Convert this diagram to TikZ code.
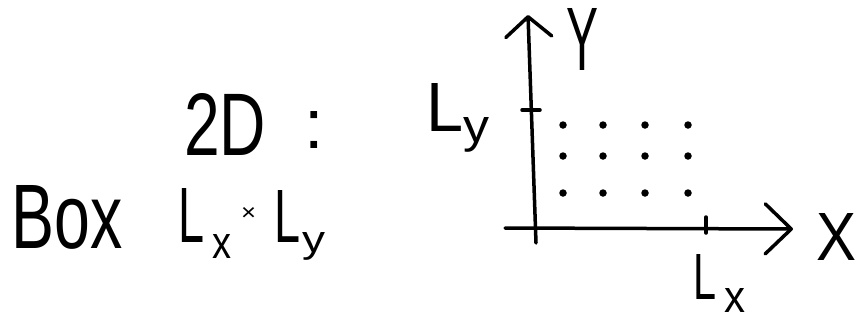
\documentclass[tikz,border=0pt]{standalone}
\usepackage{fontspec}
\setmainfont{Liberation Sans}
\usetikzlibrary{arrows.meta}
\newcommand{\fit}[3]{\resizebox{#1}{#2}{#3}}
\begin{document}
\begin{tikzpicture}[x=1pt,y=-1pt,
  ink/.style={line width=3.5pt, line cap=round, line join=round},
  yaxis/.style={ink, -{Straight Barb[length=20pt,width=46pt,line width=3.5pt,round]}},
  xaxis/.style={ink, -{Straight Barb[length=26pt,width=50pt,line width=3.5pt,round]}},
  lbl/.style={inner sep=0pt, anchor=base west},
  pt/.style={circle, fill=black, inner sep=0pt, minimum size=7.5pt}]
\useasboundingbox[fill=white] (0,0) rectangle (858,325);
% left text
\node[lbl] (title) at (184,155)
  {\fit{82pt}{62pt}{2D}\hspace{38pt}\raisebox{7pt}{\fontsize{70}{70}\selectfont :}};
\node[lbl] (box) at (11,248) {\fit{111pt}{63pt}{Box}};
\node[lbl] (dims) at (178,242)
  {\fit{26pt}{54pt}{L}\hspace{8pt}\raisebox{-16pt}{\fit{19pt}{24pt}{x}}%
   \hspace{10pt}\raisebox{22pt}{\fit{15pt}{13pt}{×}}%
   \hspace{18pt}\fit{26pt}{52pt}{L}\hspace{2pt}\raisebox{-10pt}{\fit{23pt}{20pt}{y}}};
% axes
\coordinate (ybot) at (536,243);
\coordinate (ytop) at (528,15);
\coordinate (xleft) at (505,228);
\coordinate (xtip) at (793,229);
\draw[yaxis] (ybot) -- (ytop);
\draw[xaxis] (xleft) -- (xtip);
% ticks
\coordinate (tyl) at (522,110); \coordinate (tyr) at (540,110);
\coordinate (txt) at (706,217); \coordinate (txb) at (706,233);
\draw[ink] (tyl) -- (tyr);
\draw[ink] (txt) -- (txb);
% axis labels
\node[lbl] (ylab) at (566,70) {\fit{32pt}{62pt}{Y}};
\node[lbl] (xlab) at (816,260) {\fit{40pt}{47pt}{X}};
\node[lbl] (ly) at (426,131) {\fit{37pt}{48pt}{L}\hspace{0pt}\raisebox{-11pt}{\fit{26pt}{25pt}{y}}};
\node[lbl] (lx) at (693,299) {\fit{23pt}{45pt}{L}\hspace{8pt}\raisebox{-13pt}{\fit{21pt}{24pt}{x}}};
% dots
\foreach \c [count=\i] in {563,603,645,688}{
  \foreach \r [count=\j] in {125,156,193}{
    \node[pt] (d\i\j) at (\c,\r) {};
  }
}
\end{tikzpicture}
\end{document}
